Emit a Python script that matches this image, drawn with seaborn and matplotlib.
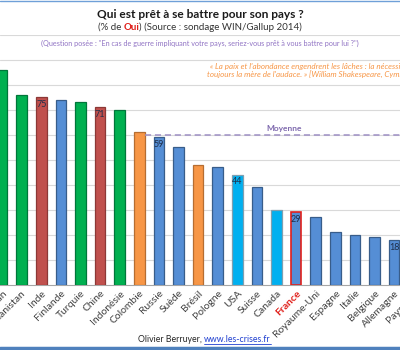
import pandas as pd
import seaborn as sns
import matplotlib.pyplot as plt
from matplotlib.lines import Line2D

# data (% who answer "Oui")
countries = ['Pakistan', 'Afghanistan', 'Inde', 'Finlande', 'Turquie', 'Chine',
             'Indonésie', 'Colombie', 'Russie', 'Suède', 'Brésil', 'Pologne',
             'USA', 'Suisse', 'Canada', 'France', 'Royaume-Uni', 'Espagne',
             'Italie', 'Belgique', 'Allemagne', 'Pays-Bas']
values = [86, 76, 75, 74, 73, 71, 70, 61, 59, 55, 48, 47, 44, 39, 30, 29, 27,
          21, 20, 19, 18, 15]
groups = ['g', 'g', 'r', 'b', 'g', 'r', 'g', 'o', 'b', 'b', 'o', 'b', 'c', 'b',
          'c', 'b', 'b', 'b', 'b', 'b', 'b', 'b']
shown_labels = ['', '', '75', '', '', '71', '', '', '59', '', '', '', '44', '',
                '', '29', '', '', '', '', '18', '']
moyenne = 60

fill = {'g': '#00B050', 'r': '#C0504D', 'b': '#558ED5', 'o': '#F79646', 'c': '#00B0F0'}
edge = {'g': '#00763A', 'r': '#8C3836', 'b': '#385D8A', 'o': '#B66D31', 'c': '#7F9FB0'}

df = pd.DataFrame({'pays': countries, 'oui': values, 'groupe': groups})

sns.set_style('white')
plt.rcParams['font.family'] = ['Lato', 'DejaVu Sans']

fig = plt.figure(figsize=(4, 3.5), dpi=100)
# axes is wider than the figure so the chart looks cropped, like the original
ax = fig.add_axes([0, 65.5 / 350, 423.5 / 400, 250 / 350])

palette = [fill[g] for g in groups]
sns.barplot(data=df, x='pays', y='oui', hue='pays', palette=palette,
            saturation=1, width=0.54, legend=False, ax=ax, zorder=3)
bars = sorted(ax.patches, key=lambda p: p.get_x())
for patch, g in zip(bars, groups):
    patch.set_edgecolor(edge[g])
    patch.set_linewidth(0.9)
# France gets a red outline
bars[countries.index('France')].set_edgecolor('#E0201B')
bars[countries.index('France')].set_linewidth(1.2)

for patch, lab in zip(bars, shown_labels):
    if lab:
        ax.text(patch.get_x() + patch.get_width() / 2, patch.get_height() - 1.2,
                lab, ha='center', va='top', fontsize=6.5, color='#1F2F4A',
                zorder=5)

ax.set_xlim(-2.1 / 19.6, 21.5)
ax.set_ylim(0, 100)
ax.set_yticks(range(10, 101, 10))
ax.yaxis.grid(True, color='#D9D9D9', linewidth=0.8, zorder=0)
ax.set_yticklabels([])
ax.tick_params(axis='y', length=0)
ax.set_xlabel('')
ax.set_ylabel('')
for s in ['top', 'left', 'right']:
    ax.spines[s].set_visible(False)
ax.spines['bottom'].set_color('#A6A6A6')
ax.spines['bottom'].set_linewidth(0.8)

ax.set_xticks(range(len(countries)))
ax.set_xticklabels(countries, rotation=45, ha='right', rotation_mode='anchor',
                   fontsize=7.5, color='#404040')
ax.tick_params(axis='x', which='major', length=0, pad=3)
ax.set_xticks([i + 0.5 for i in range(len(countries))], minor=True)
ax.tick_params(axis='x', which='minor', length=3, color='#A6A6A6')
fr = ax.get_xticklabels()[countries.index('France')]
fr.set_color('#E0201B')
fr.set_fontweight('bold')

# average line
ax.hlines(moyenne, 7.27, 21.5, colors='#9E8FC4', linestyles=(0, (4, 2.5)),
          linewidth=1.1, zorder=4)
ax.text(14.4, 62.5, 'Moyenne', ha='center', va='center', fontsize=6,
        fontweight='bold', color='#7F6AAE')

# titles
fig.text(0.5, 1 - 15 / 350, 'Qui est prêt à se battre pour son pays ?',
         ha='center', va='center', fontsize=8.6, fontweight='bold', color='#1A1A1A')

fig.canvas.draw()
r = fig.canvas.get_renderer()
parts = [('(% de ', '#333333', 'normal'), ('Oui', '#E0201B', 'bold'),
         (') (Source : sondage WIN/Gallup 2014)', '#333333', 'normal')]
ys = 1 - 27 / 350
pieces = []
x = 0
for txt, col, w in parts:
    t = fig.text(x, ys, txt, ha='left', va='center', fontsize=7, color=col,
                 fontweight=w)
    bb = t.get_window_extent(r)
    pieces.append(t)
    x = bb.x1 / 400
# centre the three pieces around the middle
shift = 0.5 - x / 2
for t in pieces:
    t.set_x(t.get_position()[0] + shift)

fig.text(0.5, 1 - 43 / 350,
         '(Question posée : "En cas de guerre impliquant votre pays, '
         'seriez-vous prêt à vous battre pour lui ?")',
         ha='center', va='center', fontsize=5.2, color='#9174C4')

fig.text(210 / 400, 1 - 66.5 / 350,
         "« La paix et l'abondance engendrent les lâches : la nécessité est",
         ha='left', va='center', fontsize=5.8, style='italic', color='#F79646')
fig.text(207 / 400, 1 - 74 / 350,
         "toujours la mère de l'audace. » [William Shakespeare, Cymbeline]",
         ha='left', va='center', fontsize=5.8, style='italic', color='#F79646')

# footer
t1 = fig.text(138 / 400, 1 - 340 / 350, 'Olivier Berruyer, ', ha='left',
              va='center', fontsize=6.3, color='#262626')
bb = t1.get_window_extent(r)
t2 = fig.text(bb.x1 / 400, 1 - 340 / 350, 'www.les-crises.fr', ha='left',
              va='center', fontsize=6.3, color='#1F3FD0')
bb2 = t2.get_window_extent(r)
fig.add_artist(Line2D([bb2.x0 / 400, bb2.x1 / 400], [(bb2.y0 + 0.5) / 350] * 2,
                      color='#1F3FD0', linewidth=0.6))

# blue frame lines top and bottom
fig.add_artist(Line2D([0, 1], [1 - 347.5 / 350] * 2, color='#4F81BD', linewidth=2.5))
fig.add_artist(Line2D([0, 1], [1 - 0.5 / 350] * 2, color='#6FA0D8', linewidth=1))

fig.savefig('out.png', dpi=100)
